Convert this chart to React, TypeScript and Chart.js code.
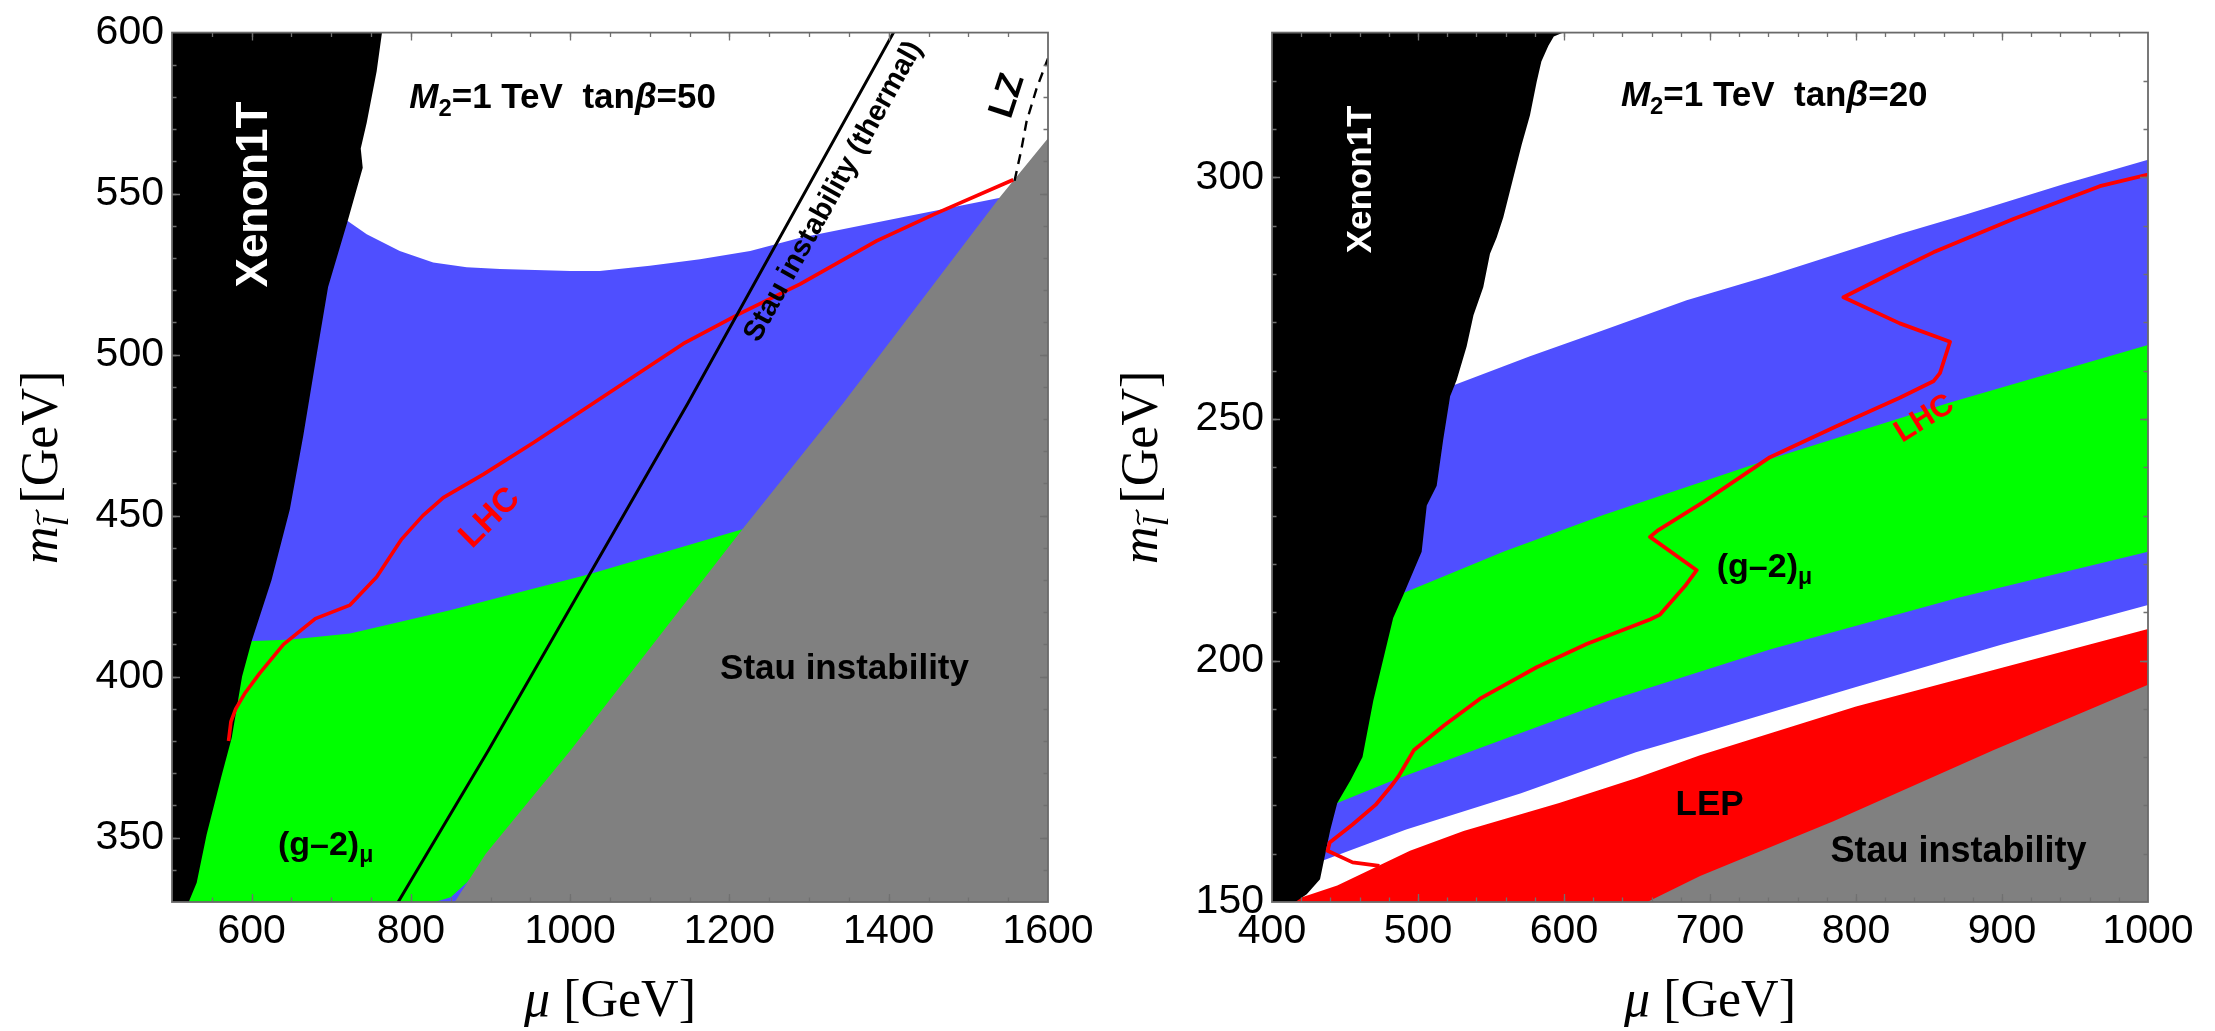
import React, { useEffect, useRef } from 'react';
import { Chart, registerables } from 'chart.js';

Chart.register(...registerables);

type Pt = [number, number];
type Seg = { t: string; it?: boolean; sub?: boolean; tilde?: boolean };
type Label = { segs: Seg[]; x: number; y: number; size: number; color?: string; rot?: number; align?: 'left' | 'center'; mid?: boolean };

const SANS = '"Liberation Sans", Arial, Helvetica, sans-serif';
const SERIF = '"Liberation Serif", "Times New Roman", "DejaVu Serif", serif';

const BLUE = '#4f4fff';
const GREEN = '#00ff00';
const GRAY = '#808080';
const RED = '#ff0000';
const BLACK = '#000000';

const range = (a: number, b: number, s: number) => {
  const out: number[] = [];
  for (let v = a; v <= b + 1e-9; v += s) out.push(v);
  return out;
};

// ================= LEFT PANEL (M2 = 1 TeV, tanβ = 50) =================
const leftXMajor = [600, 800, 1000, 1200, 1400, 1600];
const leftYMajor = [350, 400, 450, 500, 550, 600];
const leftXMinor = range(500, 1600, 50);
const leftYMinor = range(330, 600, 10);

const leftBlue: Pt[] = [
  [500, 548], [720.6, 541.5], [744.5, 537.4], [786, 532.2], [828, 528.6], [870, 527.1], [912, 526.6],
  [1000, 526], [1037, 526], [1100, 527.6], [1163, 529.6], [1226, 532.2], [1289, 536.3], [1414, 542.5],
  [1540, 548.7], [1600, 552], [1600, 330], [500, 330],
];
const leftGreen: Pt[] = [
  [560, 411], [596, 411], [650, 411.5], [723.5, 413.4], [849, 420.6], [1024.9, 431.9], [1217.4, 445.8],
  [1230, 450], [1000, 376], [900, 344.3], [870, 336], [850, 331.5], [830, 330], [510, 330],
];
const leftGray: Pt[] = [
  [855, 330], [894, 345], [1000, 377], [1217, 446], [1343, 485], [1540, 549], [1600, 567.2], [1600, 330],
];
const leftXenon: Pt[] = [
  [500, 600], [763.7, 600], [757, 588], [744.5, 572], [737, 564], [739.5, 558], [720.6, 541.5], [696, 521],
  [681.7, 500], [665, 475], [648, 452], [625, 430], [600, 411], [588, 400], [575, 381], [562, 369],
  [543.5, 351], [531, 336], [521, 330], [500, 330],
];
const leftLHC: Pt[] = [
  [571, 380], [574, 386], [580, 390], [592, 395], [610, 401], [640, 410], [680, 418], [723.5, 422.2],
  [757, 430.9], [788.4, 442.7], [815, 450], [840.7, 455.6], [890.9, 462.8], [953.7, 472.6], [1029, 484.9],
  [1142, 503.4], [1213, 512.7], [1288.6, 521.9], [1384.8, 535.3], [1456, 543.5], [1556.4, 554.3],
];
const leftThermal: Pt[] = [[784, 330], [897, 377], [1148, 485], [1406, 600], [1410, 602]];
const leftLZ: Pt[] = [[1558, 554], [1566, 563], [1573, 572.3], [1585.6, 582.6], [1600, 592]];

const leftLabels: Label[] = [
  { segs: [{ t: 'Xenon1T' }], x: 600, y: 549.7, size: 44, color: '#ffffff', rot: -90, align: 'center', mid: true },
  { segs: [{ t: 'M', it: true }, { t: '2', sub: true }, { t: '=1 TeV  tan' }, { t: 'β', it: true }, { t: '=50' }], x: 798, y: 576.5, size: 35, align: 'left' },
  { segs: [{ t: 'Stau instability (thermal)' }], x: 1328, y: 551, size: 29, rot: -61, align: 'center', mid: true },
  { segs: [{ t: 'LZ' }], x: 1546, y: 580.6, size: 36, rot: -72, align: 'center', mid: true },
  { segs: [{ t: 'LHC' }], x: 897, y: 449.9, size: 34, color: RED, rot: -45, align: 'center', mid: true },
  { segs: [{ t: '(g–2)' }, { t: 'μ', sub: true }], x: 633, y: 348.5, size: 34, align: 'left', mid: true },
  { segs: [{ t: 'Stau instability' }], x: 1344.5, y: 403, size: 35, align: 'center', mid: true },
];

// ================= RIGHT PANEL (M2 = 1 TeV, tanβ = 20) =================
const rightXMajor = [400, 500, 600, 700, 800, 900, 1000];
const rightYMajor = [150, 200, 250, 300];
const rightXMinor = range(400, 1000, 20);
const rightYMinor = range(150, 330, 10);

const rightBlue: Pt[] = [
  [450, 252], [525.3, 257.1], [576.7, 263], [626.9, 268.4], [684, 274.6], [741.1, 279.7], [830, 288.3],
  [875.8, 292.4], [942, 298.6], [1000, 303.7], [1000, 211.5], [900, 203.3], [800, 194.5], [693.2, 184.9],
  [649.2, 181], [570.6, 172.5], [491.9, 165], [436.8, 158.8], [420, 157],
];
const rightGreen: Pt[] = [
  [470, 211], [490, 214], [558.4, 222.5], [626.9, 230.1], [684, 235.9], [741.1, 241.7], [864.4, 253.4],
  [1000, 265.3], [1000, 222.5], [870, 213], [741, 202.3], [631, 191.7], [544.3, 182.1], [484, 175.3],
  [444.7, 170.5], [430, 169.5],
];
const rightLEP: Pt[] = [
  [405, 149], [417, 150.6], [444.7, 153.4], [494.5, 160.6], [531.2, 164.7], [596.7, 170.5], [649.2, 175.6],
  [693.2, 180.4], [800, 190.5], [900, 198.5], [1000, 206.5], [1000, 150], [405, 150],
];
const rightGray: Pt[] = [
  [657, 150], [693.2, 155.4], [784.5, 166.7], [894, 181.4], [1000, 195], [1000, 150],
];
const rightXenon: Pt[] = [
  [400, 330], [599.5, 330], [593, 329.2], [589.3, 327.3], [584.5, 324], [581.3, 319.8], [576.7, 312.9],
  [571, 306.8], [566.4, 301.3], [558.4, 291.7], [553.9, 287.6], [549.3, 284.2], [544.7, 277.3], [538, 271.5],
  [533.3, 265], [526.5, 258.1], [522, 254.7], [517.3, 245.8], [512.8, 236.2], [506, 232.1], [502.5, 222.5],
  [490, 213.6], [483, 208.8], [469.4, 191.7], [462, 180], [454, 175.3], [444.7, 170.5], [440, 165],
  [438.1, 162.3], [432.9, 154.7], [423.8, 151.6], [415.9, 150], [400, 150],
];
const rightLHC: Pt[] = [
  [473.6, 157.5], [455.2, 158.2], [438.1, 160.6], [439.5, 162.3], [455, 166], [470.9, 170.1], [481.4, 173.9],
  [486.6, 176], [497.1, 181.4], [518, 186.6], [542.5, 192.1], [581.3, 198.6], [615.5, 203.4], [658.9, 208.5],
  [665.8, 209.5], [682.9, 215.4], [690.9, 218.7], [658.9, 225.6], [664.6, 227], [695.4, 232.8], [741.1, 242.1],
  [786.6, 248.5], [830, 254.4], [853, 257.8], [857.5, 259.5], [864.4, 266], [830, 269.8], [791.4, 275.2],
  [830, 281.1], [853, 284.5], [907.8, 291.4], [967, 298.2], [1000, 300.6],
];

const rightLabels: Label[] = [
  { segs: [{ t: 'Xenon1T' }], x: 458.9, y: 299.6, size: 35, color: '#ffffff', rot: -90, align: 'center', mid: true },
  { segs: [{ t: 'M', it: true }, { t: '2', sub: true }, { t: '=1 TeV  tan' }, { t: 'β', it: true }, { t: '=20' }], x: 639, y: 314.8, size: 35, align: 'left' },
  { segs: [{ t: 'LHC' }], x: 846, y: 250.5, size: 31, color: RED, rot: -32, align: 'center', mid: true },
  { segs: [{ t: '(g–2)' }, { t: 'μ', sub: true }], x: 704.6, y: 219.9, size: 34, align: 'left', mid: true },
  { segs: [{ t: 'LEP' }], x: 699.7, y: 168.1, size: 35, align: 'center' },
  { segs: [{ t: 'Stau instability' }], x: 870.2, y: 158.2, size: 36, align: 'center' },
];

// ================= rendering helpers =================
type PanelSpec = {
  xMin: number; xMax: number; yMin: number; yMax: number;
  xMajor: number[]; yMajor: number[]; xMinor: number[]; yMinor: number[];
  yAxisWidth: number; padRight: number;
  fills: { pts: Pt[]; color: string }[];
  lines: { pts: Pt[]; color: string; width: number; dash?: number[] }[];
  labels: Label[];
};

function drawRich(ctx: CanvasRenderingContext2D, segs: Seg[], x: number, y: number, size: number,
  family: string, weight: string, color: string, align: 'left' | 'center') {
  const subScale = 0.68;
  const fontOf = (s: Seg) => `${s.it ? 'italic ' : ''}${weight} ${s.sub ? size * subScale : size}px ${family}`;
  const widths = segs.map((s) => { ctx.font = fontOf(s); return ctx.measureText(s.t).width; });
  const total = widths.reduce((a, b) => a + b, 0);
  let cx = align === 'center' ? x - total / 2 : x;
  ctx.fillStyle = color;
  ctx.strokeStyle = color;
  ctx.textAlign = 'left';
  ctx.textBaseline = 'alphabetic';
  segs.forEach((s, i) => {
    ctx.font = fontOf(s);
    const dy = s.sub ? size * 0.22 : 0;
    ctx.fillText(s.t, cx, y + dy);
    if (s.tilde) {
      const ss = size * subScale;
      const w = ss * 0.42;
      const xc = cx + widths[i] / 2 + ss * 0.12;
      const yc = y + dy - ss * 0.86;
      const a = ss * 0.06;
      ctx.lineWidth = Math.max(1.5, ss * 0.05);
      ctx.beginPath();
      ctx.moveTo(xc - w / 2, yc + a);
      ctx.bezierCurveTo(xc - w / 6, yc - 2.2 * a, xc + w / 6, yc + 2.2 * a, xc + w / 2, yc - a);
      ctx.stroke();
    }
    cx += widths[i];
  });
}

function framePlugin(p: PanelSpec) {
  return {
    id: 'mmaFrame',
    afterDatasetsDraw(chart: any) {
      const { ctx, chartArea: a, scales } = chart;
      const xs = scales.x;
      const ys = scales.y;
      ctx.save();
      ctx.strokeStyle = '#707070';
      ctx.lineWidth = 1.3;
      const xt = (vals: number[], len: number) => vals.forEach((v) => {
        if (v <= p.xMin || v >= p.xMax) return;
        const px = Math.round(xs.getPixelForValue(v)) + 0.5;
        ctx.beginPath();
        ctx.moveTo(px, a.bottom); ctx.lineTo(px, a.bottom - len);
        ctx.moveTo(px, a.top); ctx.lineTo(px, a.top + len);
        ctx.stroke();
      });
      const yt = (vals: number[], len: number) => vals.forEach((v) => {
        if (v <= p.yMin || v >= p.yMax) return;
        const py = Math.round(ys.getPixelForValue(v)) + 0.5;
        ctx.beginPath();
        ctx.moveTo(a.left, py); ctx.lineTo(a.left + len, py);
        ctx.moveTo(a.right, py); ctx.lineTo(a.right - len, py);
        ctx.stroke();
      });
      xt(p.xMinor, 4.5); yt(p.yMinor, 4.5);
      xt(p.xMajor, 8); yt(p.yMajor, 8);
      ctx.strokeStyle = '#6a6a6a';
      ctx.lineWidth = 1.8;
      ctx.strokeRect(a.left, a.top, a.right - a.left, a.bottom - a.top);
      ctx.restore();
    },
  };
}

function textPlugin(p: PanelSpec) {
  return {
    id: 'mmaText',
    afterDatasetsDraw(chart: any) {
      const { ctx, chartArea: a, scales } = chart;
      const xs = scales.x;
      const ys = scales.y;
      ctx.save();
      ctx.beginPath();
      ctx.rect(a.left, a.top, a.right - a.left, a.bottom - a.top);
      ctx.clip();
      p.labels.forEach((l) => {
        const px = xs.getPixelForValue(l.x);
        const py = ys.getPixelForValue(l.y);
        ctx.save();
        ctx.translate(px, py);
        if (l.rot) ctx.rotate((l.rot * Math.PI) / 180);
        const base = l.mid ? l.size * 0.358 : 0;
        drawRich(ctx, l.segs, 0, base, l.size, SANS, 'bold', l.color ?? BLACK, l.align ?? 'center');
        ctx.restore();
      });
      ctx.restore();

      // axis titles
      ctx.save();
      drawRich(ctx, [{ t: 'μ', it: true }, { t: ' [GeV]' }], (a.left + a.right) / 2, a.bottom + 114, 52, SERIF, 'normal', BLACK, 'center');
      ctx.translate(a.left - 115, (a.top + a.bottom) / 2);
      ctx.rotate(-Math.PI / 2);
      drawRich(ctx, [{ t: 'm', it: true }, { t: 'l', it: true, sub: true, tilde: true }, { t: ' [GeV]' }], 0, 0, 52, SERIF, 'normal', BLACK, 'center');
      ctx.restore();
    },
  };
}

const xy = (pts: Pt[]) => pts.map(([x, y]) => ({ x, y }));

function buildConfig(p: PanelSpec): any {
  const datasets: any[] = [];
  p.fills.forEach((f) => datasets.push({
    data: xy(f.pts), borderColor: 'rgba(0,0,0,0)', borderWidth: 0, backgroundColor: f.color,
    fill: 'shape', pointRadius: 0, pointHoverRadius: 0, tension: 0,
  }));
  p.lines.forEach((l) => datasets.push({
    data: xy(l.pts), borderColor: l.color, borderWidth: l.width, borderDash: l.dash ?? [],
    backgroundColor: l.color, fill: false, pointRadius: 0, pointHoverRadius: 0, tension: 0,
    borderJoinStyle: 'round', borderCapStyle: 'butt',
  }));
  datasets.forEach((d, i) => { d.order = datasets.length - i; });
  const tickFont = { family: SANS, size: 41 };
  return {
    type: 'line',
    data: { datasets },
    options: {
      animation: false,
      responsive: false,
      maintainAspectRatio: false,
      devicePixelRatio: 1,
      events: [],
      layout: { padding: { top: 27, right: p.padRight, left: 0, bottom: 0 } },
      plugins: { legend: { display: false }, tooltip: { enabled: false } },
      scales: {
        x: {
          type: 'linear', min: p.xMin, max: p.xMax,
          grid: { display: false, drawTicks: false }, border: { display: false },
          ticks: { font: tickFont, color: '#000', padding: 5, maxRotation: 0, autoSkip: false, callback: (v: any) => String(v) },
          afterBuildTicks: (s: any) => { s.ticks = p.xMajor.map((v) => ({ value: v })); },
          afterFit: (s: any) => { s.height = 129; },
        },
        y: {
          type: 'linear', min: p.yMin, max: p.yMax,
          grid: { display: false, drawTicks: false }, border: { display: false },
          ticks: { font: tickFont, color: '#000', padding: 8, autoSkip: false, callback: (v: any) => String(v) },
          afterBuildTicks: (s: any) => { s.ticks = p.yMajor.map((v) => ({ value: v })); },
          afterFit: (s: any) => { s.width = p.yAxisWidth; },
        },
      },
    },
    plugins: [framePlugin(p), textPlugin(p)],
  };
}

const leftPanel: PanelSpec = {
  xMin: 500, xMax: 1600, yMin: 330, yMax: 600,
  xMajor: leftXMajor, yMajor: leftYMajor, xMinor: leftXMinor, yMinor: leftYMinor,
  yAxisWidth: 172, padRight: 62,
  fills: [
    { pts: leftBlue, color: BLUE },
    { pts: leftGreen, color: GREEN },
    { pts: leftGray, color: GRAY },
    { pts: leftXenon, color: BLACK },
  ],
  lines: [
    { pts: leftLHC, color: RED, width: 3.6 },
    { pts: leftThermal, color: BLACK, width: 3 },
    { pts: leftLZ, color: BLACK, width: 2.4, dash: [10, 7] },
  ],
  labels: leftLabels,
};

const rightPanel: PanelSpec = {
  xMin: 400, xMax: 1000, yMin: 150, yMax: 330,
  xMajor: rightXMajor, yMajor: rightYMajor, xMinor: rightXMinor, yMinor: rightYMinor,
  yAxisWidth: 162, padRight: 67,
  fills: [
    { pts: rightBlue, color: BLUE },
    { pts: rightGreen, color: GREEN },
    { pts: rightLEP, color: RED },
    { pts: rightGray, color: GRAY },
    { pts: rightXenon, color: BLACK },
  ],
  lines: [
    { pts: rightLHC, color: RED, width: 3.8 },
  ],
  labels: rightLabels,
};

function Panel({ spec, left, width }: { spec: PanelSpec; left: number; width: number }) {
  const ref = useRef<HTMLCanvasElement>(null);
  useEffect(() => {
    const chart = new Chart(ref.current as HTMLCanvasElement, buildConfig(spec));
    return () => chart.destroy();
  }, [spec]);
  return (
    <canvas
      ref={ref}
      width={width}
      height={1031}
      style={{ position: 'absolute', left, top: 0, width, height: 1031, display: 'block' }}
    />
  );
}

export default function App() {
  useEffect(() => {
    document.body.style.margin = '0';
  }, []);
  return (
    <div style={{ position: 'absolute', left: 0, top: 0, width: 2215, height: 1031, background: '#ffffff', overflow: 'hidden' }}>
      <Panel spec={leftPanel} left={0} width={1110} />
      <Panel spec={rightPanel} left={1110} width={1105} />
    </div>
  );
}
